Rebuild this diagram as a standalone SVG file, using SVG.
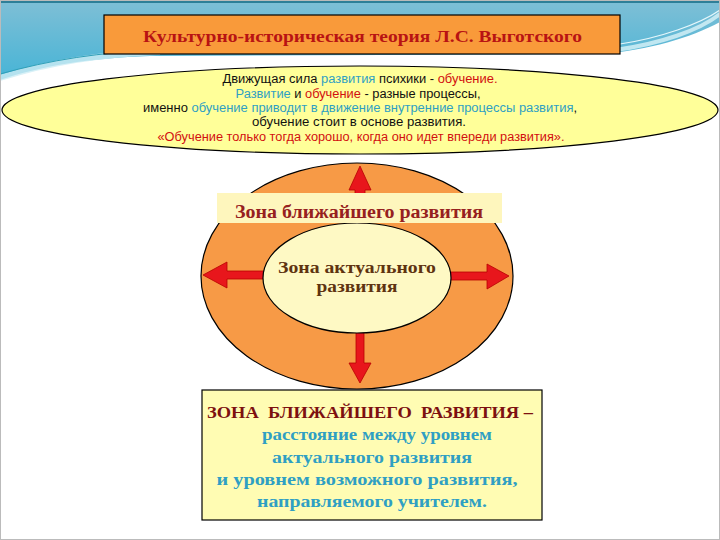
<svg xmlns="http://www.w3.org/2000/svg" width="720" height="540" viewBox="0 0 720 540">
<defs>
<linearGradient id="sky" x1="0" y1="0" x2="0" y2="1">
<stop offset="0" stop-color="#7fbfd6"/>
<stop offset="1" stop-color="#46b4d6"/>
</linearGradient>
<style>
.serif{font-family:"Liberation Serif","DejaVu Serif",serif;font-weight:bold}
.sans{font-family:"Liberation Sans","DejaVu Sans",sans-serif;font-size:12px}
.blk{fill:#111}
.teal{fill:#2f9fc3}
.red{fill:#d20f0f}
.arrow{fill:#e8161c;stroke:#b80000;stroke-width:0.8}
.outline{stroke:#000;stroke-width:1.2}
</style>
</defs>
<rect width="720" height="540" fill="#fff"/>
<g id="background">
<path d="M0,0 H720 V22 C690,38 650,50 600,54 L150,56 C90,58 40,66 0,80 Z" fill="url(#sky)"/>
<path d="M0,78 C50,62 100,54 160,52" fill="none" stroke="#cfeef5" stroke-width="6" opacity="0.8"/>
<path d="M0,74 C50,60 100,52 160,50" fill="none" stroke="#2f9fb8" stroke-width="1"/>
<path d="M615,50 C660,44 700,30 720,14" fill="none" stroke="#d8f2f8" stroke-width="4" opacity="0.8"/>
<path d="M620,44 C660,38 700,24 720,10" fill="none" stroke="#e6f7fb" stroke-width="1.2"/>
<rect x="0" y="0" width="720" height="3" fill="#2e7f98"/>
<rect x="0.5" y="0.5" width="719" height="539" fill="none" stroke="#bbb" stroke-width="1"/>
</g>
<g id="title">
<rect x="104" y="15" width="516" height="39" fill="#f99a3a" class="outline" stroke-width="1.5"/>
<text class="serif" x="362.5" y="42" font-size="17" fill="#b81313" text-anchor="middle" textLength="439" lengthAdjust="spacingAndGlyphs">Культурно-историческая теория Л.С. Выготского</text>
</g>
<g id="principles">
<ellipse cx="360" cy="110" rx="358" ry="44" fill="#ffff99" class="outline"/>
<text class="sans" x="360" y="83" text-anchor="middle" textLength="275" lengthAdjust="spacingAndGlyphs"><tspan class="blk">Движущая сила </tspan><tspan class="teal">развития</tspan><tspan class="blk"> психики - </tspan><tspan class="red">обучение.</tspan></text>
<text class="sans" x="358" y="98" text-anchor="middle" textLength="245" lengthAdjust="spacingAndGlyphs"><tspan class="teal">Развитие</tspan><tspan class="blk"> и </tspan><tspan class="red">обучение</tspan><tspan class="blk"> - разные процессы,</tspan></text>
<text class="sans" x="360" y="112" text-anchor="middle" textLength="434" lengthAdjust="spacingAndGlyphs"><tspan class="blk">именно </tspan><tspan class="teal">обучение приводит в движение внутренние процессы развития</tspan><tspan class="blk">,</tspan></text>
<text class="sans blk" x="359" y="126" text-anchor="middle" textLength="214" lengthAdjust="spacingAndGlyphs">обучение стоит в основе развития.</text>
<text class="sans red" x="361" y="141" text-anchor="middle" textLength="407" lengthAdjust="spacingAndGlyphs">«Обучение только тогда хорошо, когда оно идет впереди развития».</text>
</g>
<g id="zone-proximal">
<ellipse cx="357" cy="276" rx="156" ry="113" fill="#f79a46" class="outline" stroke-width="1"/>
</g>
<g id="connectors">
<polygon class="arrow" points="355,225 355,190 349,190 360,166 371,190 365,190 365,225"/>
<polygon class="arrow" points="266,271 227,271 227,262 203,275 227,288 227,279 266,279"/>
<polygon class="arrow" points="448,272 487,272 487,264 509,276 487,289 487,280 448,280"/>
<polygon class="arrow" points="356,330 356,363 349,363 360,383 371,363 364,363 364,330"/>
</g>
<g id="zone-actual">
<ellipse cx="357" cy="278" rx="94" ry="55" fill="#fef9c4" class="outline" stroke-width="1"/>
<text class="serif" x="357" y="273" font-size="16" fill="#5e3310" text-anchor="middle" textLength="158" lengthAdjust="spacingAndGlyphs">Зона актуального</text>
<text class="serif" x="357" y="292" font-size="16" fill="#5e3310" text-anchor="middle" textLength="81" lengthAdjust="spacingAndGlyphs">развития</text>
</g>
<g id="zone-proximal-label">
<rect x="217" y="193" width="285" height="30" fill="#fef6bd"/>
<text class="serif" x="359" y="218" font-size="18" fill="#962020" text-anchor="middle" textLength="248" lengthAdjust="spacingAndGlyphs">Зона ближайшего развития</text>
</g>
<g id="definition">
<rect x="202" y="390" width="340" height="130" fill="#fffcb3" class="outline" stroke-width="1.5"/>
<text class="serif" x="207" y="418" font-size="17" fill="#7d1010" style="white-space:pre" textLength="326" lengthAdjust="spacingAndGlyphs">ЗОНА  БЛИЖАЙШЕГО  РАЗВИТИЯ –</text>
<text class="serif teal" x="377" y="440" font-size="16" text-anchor="middle" textLength="230" lengthAdjust="spacingAndGlyphs">расстояние между уровнем</text>
<text class="serif teal" x="372" y="463" font-size="16" text-anchor="middle" textLength="200" lengthAdjust="spacingAndGlyphs">актуального развития</text>
<text class="serif teal" x="367" y="485" font-size="16" text-anchor="middle" textLength="301" lengthAdjust="spacingAndGlyphs">и уровнем возможного развития,</text>
<text class="serif teal" x="372" y="507" font-size="16" text-anchor="middle" textLength="230" lengthAdjust="spacingAndGlyphs">направляемого учителем.</text>
</g>
</svg>
